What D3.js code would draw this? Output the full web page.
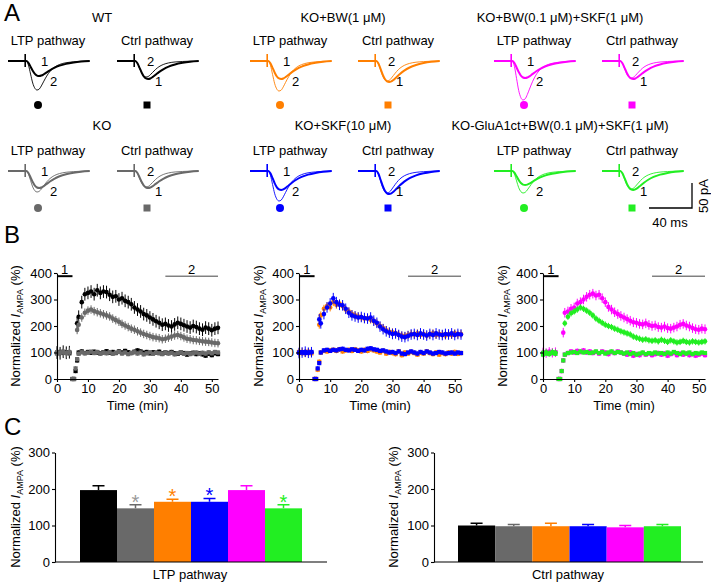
<!DOCTYPE html>
<html>
<head>
<meta charset="utf-8">
<script src="https://cdn.jsdelivr.net/npm/d3@7"></script>
<style>
    body { margin: 0; background: #fff; }
    svg { font-family: "Liberation Sans", Arial, sans-serif; }
    .axis path, .axis line { stroke: #000; stroke-width: 1.1; }
    .axis text { font-size: 13px; fill: #000; font-family: "Liberation Sans", Arial, sans-serif; }
</style>
</head>
<body>
<svg id="fig" width="711" height="583"></svg>
<script>
// ---- conditions ----
const conditions = ['WT', 'KO', 'KO+BW(1 \u03BCM)', 'KO+SKF(10 \u03BCM)',
    'KO+BW(0.1 \u03BCM)+SKF(1 \u03BCM)', 'KO-GluA1ct+BW(0.1 \u03BCM)+SKF(1 \u03BCM)'];
const colors = ['#000000', '#696969', '#ff7f00', '#0000ff', '#ff00ff', '#22ee22'];

// ---- A: EPSC amplitudes (pA), trace 1 = baseline, trace 2 = after LTP ----
const ltpAmp1 = [30, 34, 36, 38, 34, 28];
const ltpAmp2 = [58, 42, 60, 60, 78, 44];
const ctrlAmp1 = [36, 34, 42, 46, 36, 38];
const ctrlAmp2 = [32, 32, 40, 44, 34, 36];
// normalized waveform shapes (time in ms)
const traceMs = [0, 17, 19, 21, 23, 25, 27, 29, 31, 33, 36, 39, 43, 48, 54, 61, 68, 76];
const shape1 = [0, 0, -0.12, -0.38, -0.65, -0.86, -0.97, -1, -0.97, -0.9, -0.76, -0.62, -0.46, -0.31, -0.19, -0.1, -0.04, 0];
const shape2 = [0, 0, -0.14, -0.45, -0.76, -0.94, -1, -0.97, -0.86, -0.72, -0.52, -0.36, -0.22, -0.12, -0.06, -0.03, -0.01, 0];

// ---- B: time course (normalized I_AMPA, %) ----
const timeMin = [0, 1, 2, 3, 4, 5, 5.5, 6, 6.5, 7, 8, 9, 10, 11, 12, 13, 14, 15, 16, 17, 18, 19, 20,
    21, 22, 23, 24, 25, 26, 27, 28, 29, 30, 31, 32, 33, 34, 35, 36, 37, 38, 39, 40,
    41, 42, 43, 44, 45, 46, 47, 48, 49, 50, 51, 52];
const wtLtp = [100, 97, 103, 99, 101, null, null, null, 210,
    235, 290, 320, 325, 330, 320, 335, 325, 330,
    328, 318, 310, 312, 300, 305, 295, 290, 282, 270,
    262, 255, 245, 240, 232, 225, 218, 212, 205, 208,
    202, 198, 206, 212, 208, 203, 198, 194, 200, 196,
    190, 186, 194, 190, 184, 190, 193];
const wtCtrl = [98, 102, 99, 101, 97, 0, 0, 30, 70,
    100, 104, 98, 102, 99, 103, 100, 97, 101,
    105, 99, 102, 98, 104, 100, 106, 101, 98, 103,
    108, 104, 99, 102, 97, 101, 99, 103, 96, 100,
    98, 102, 97, 95, 100, 98, 92, 96, 99, 94,
    97, 93, 88, 95, 90, 97, 94];
const koLtp = [102, 98, 100, 97, 103, null, null, null, 185,
    205, 232, 250, 258, 262, 256, 252, 248, 244,
    240, 236, 228, 222, 216, 208, 202, 196, 190, 186,
    180, 175, 170, 166, 162, 158, 156, 154, 150, 152,
    156, 160, 164, 166, 162, 157, 152, 150, 147, 146,
    144, 142, 141, 140, 138, 136, 135];
const koCtrl = [96, 100, 103, 98, 100, 0, 0, 40, 75,
    95, 101, 97, 99, 103, 98, 102, 96, 100,
    97, 101, 95, 99, 102, 96, 100, 94, 98, 101,
    96, 100, 93, 97, 101, 95, 99, 97, 94, 100,
    96, 99, 93, 97, 101, 95, 98, 94, 97, 100,
    95, 99, 96, 101, 97, 102, 100];
const bw1Ltp = [100, 102, 97, 101, 99, null, null, null, 205,
    240, 265, 275, 270, 290, 280, 285, 275, 262,
    255, 245, 240, 236, 232, 228, 230, 224, 218, 210,
    200, 192, 184, 178, 176, 172, 168, 164, 162, 166,
    170, 168, 172, 166, 170, 164, 168, 172, 166, 170,
    168, 164, 170, 166, 172, 168, 170];
const bw1Ctrl = [102, 98, 100, 103, 97, 0, 0, 35, 65,
    100, 106, 104, 108, 110, 106, 112, 104, 108,
    110, 106, 112, 108, 104, 110, 106, 112, 108, 104,
    100, 106, 96, 102, 98, 94, 104, 90, 100, 96,
    102, 98, 92, 100, 96, 104, 98, 94, 100, 92,
    98, 94, 100, 96, 102, 95, 98];
const skf10Ltp = [98, 100, 103, 99, 101, null, null, null, 225,
    210, 245, 270, 285, 305, 290, 280, 278, 265,
    250, 240, 236, 232, 234, 230, 228, 232, 220, 212,
    198, 188, 180, 175, 170, 172, 166, 160, 158, 162,
    168, 170, 166, 172, 168, 164, 170, 166, 172, 168,
    166, 170, 168, 172, 166, 170, 168];
const skf10Ctrl = [100, 101, 98, 100, 102, 0, 0, 40, 60,
    100, 108, 110, 106, 110, 108, 112, 114, 110,
    108, 112, 110, 106, 110, 108, 114, 116, 112, 110,
    106, 108, 104, 100, 102, 98, 104, 96, 94, 100,
    104, 100, 96, 102, 98, 104, 100, 96, 98, 102,
    100, 96, 98, 100, 96, 100, 98];
const bwSkfLtp = [100, 98, 102, 99, 101, null, null, null, 175,
    250, 255, 265, 270, 285, 290, 300, 310, 318,
    322, 315, 318, 305, 290, 272, 262, 252, 245, 238,
    232, 226, 220, 214, 212, 208, 206, 210, 204, 200,
    202, 196, 194, 198, 192, 190, 194, 198, 205, 208,
    202, 198, 192, 188, 186, 190, 188];
const bwSkfCtrl = [96, 100, 103, 98, 101, 0, 0, 30, 70,
    92, 98, 104, 100, 106, 102, 108, 100, 104,
    98, 102, 96, 104, 100, 94, 102, 98, 104, 100,
    96, 92, 100, 88, 94, 90, 98, 92, 96, 90,
    94, 98, 92, 96, 88, 94, 98, 90, 96, 92,
    96, 90, 94, 88, 92, 96, 90];
const gluLtp = [99, 101, 97, 102, 100, null, null, null, null,
    210, 235, 248, 255, 262, 270, 265, 258, 250,
    240, 228, 220, 212, 205, 200, 196, 190, 186, 180,
    176, 172, 168, 160, 156, 152, 148, 150, 146, 144,
    146, 142, 148, 144, 140, 146, 142, 138, 140, 144,
    140, 138, 142, 140, 138, 140, 142];
const gluCtrl = [92, 96, 94, 98, 95, 0, 0, 30, 70,
    92, 98, 100, 102, 98, 104, 100, 102, 98,
    100, 104, 98, 102, 96, 100, 104, 98, 102, 100,
    96, 100, 94, 98, 92, 96, 100, 94, 98, 96,
    100, 96, 98, 94, 100, 96, 102, 98, 94, 100,
    96, 100, 94, 98, 96, 100, 98];
// SEM of each series, same order as conditions
const ltpTimeSem = [24, 16, 15, 20, 18, 12];
const ctrlTimeSem = [8, 8, 9, 8, 9, 7];
const timeTicks = [0, 10, 20, 30, 40, 50];
const timeYTicks = [0, 100, 200, 300, 400];

// ---- C: summary bars (mean +/- SEM, % of baseline) ----
const ltpMean = [197, 147, 165, 165, 197, 147];
const ltpSem = [12, 10, 7, 9, 12, 10];
const ltpSig = [false, true, true, true, false, true];
const ctrlMean = [100, 98, 98, 98, 95, 98];
const ctrlSem = [6, 5, 8, 5, 5, 5];
const barYTicks = [0, 100, 200, 300];

const svg = d3.select('#fig');
const starColors = ['#000', '#999999', '#ff7f00', '#0000ff', '#ff00ff', '#22ee22'];

function panelLetter(txt, x, y) {
    svg.append('text').attr('x', x).attr('y', y)
        .attr('font-size', 24).text(txt);
}

function yLabel(x, y) {
    const t = svg.append('text')
        .attr('transform', `translate(${x},${y}) rotate(-90)`)
        .attr('text-anchor', 'middle')
        .attr('font-size', 13)
        .attr('dy', '0.35em');
    t.append('tspan').text('Normalized ');
    t.append('tspan').attr('font-style', 'italic').text('I');
    t.append('tspan').attr('font-size', 9).attr('dy', 3).text('AMPA');
    t.append('tspan').attr('dy', -3).text(' (%)');
}

// ================= A =================
panelLetter('A', 4, 21);
const colLtpX = [8, 250, 494];
const colCtrlX = [117, 358, 602];
const colCenter = [102, 343, 560];
const rowBase = [61, 171];
const rowTitleY = [17, 125];
const rowLabelY = [40, 150];
const rowMarkY = [105, 208];
const msPx = 43 / 40;   // 40 ms scale bar = 43 px
const pAPx = 25 / 50;   // 50 pA scale bar = 25 px

function drawTraces(x0, base, amp1, amp2, color, isLtp) {
    const x = d3.scaleLinear().domain([0, 76]).range([x0, x0 + 76 * msPx]);
    const y = d3.scaleLinear().domain([0, -100]).range([base, base + 100 * pAPx]);
    const line = d3.line()
        .x((d, i) => x(traceMs[i]))
        .y(d => y(d))
        .curve(d3.curveMonotoneX);
    const g = svg.append('g');
    g.append('path').datum(shape2.map(v => v * amp2))
        .attr('d', line).attr('fill', 'none')
        .attr('stroke', color).attr('stroke-width', 0.9);
    g.append('path').datum(shape1.map(v => v * amp1))
        .attr('d', line).attr('fill', 'none')
        .attr('stroke', color).attr('stroke-width', 2);
    // stimulus artifact
    g.append('line')
        .attr('x1', x(16)).attr('x2', x(16))
        .attr('y1', base - 7).attr('y2', base + 6)
        .attr('stroke', color).attr('stroke-width', 1.6);
    const lab = isLtp ? ['1', '2'] : ['2', '1'];
    g.append('text').attr('x', x0 + (isLtp ? 33 : 30)).attr('y', base + 5)
        .attr('font-size', 13).text(lab[0]);
    g.append('text').attr('x', x0 + (isLtp ? 42 : 38)).attr('y', base + 25)
        .attr('font-size', 13).text(lab[1]);
}

conditions.forEach((name, i) => {
    const col = Math.floor(i / 2);
    const row = i % 2;
    const c = colors[i];
    svg.append('text').attr('x', colCenter[col]).attr('y', rowTitleY[row] + 5)
        .attr('text-anchor', 'middle').attr('font-size', 13).text(name);
    svg.append('text').attr('x', colLtpX[col] + 40).attr('y', rowLabelY[row] + 5)
        .attr('text-anchor', 'middle').attr('font-size', 13).text('LTP pathway');
    svg.append('text').attr('x', colCtrlX[col] + 40).attr('y', rowLabelY[row] + 5)
        .attr('text-anchor', 'middle').attr('font-size', 13).text('Ctrl pathway');
    drawTraces(colLtpX[col], rowBase[row], ltpAmp1[i], ltpAmp2[i], c, true);
    drawTraces(colCtrlX[col], rowBase[row], ctrlAmp1[i], ctrlAmp2[i], c, false);
    svg.append('circle').attr('cx', colLtpX[col] + 30).attr('cy', rowMarkY[row])
        .attr('r', 4).attr('fill', c);
    svg.append('rect').attr('x', colCtrlX[col] + 26.5).attr('y', rowMarkY[row] - 3.5)
        .attr('width', 7).attr('height', 7).attr('fill', c);
});

// scale bar
svg.append('path')
    .attr('d', `M649,208H692V183`)
    .attr('fill', 'none').attr('stroke', '#000').attr('stroke-width', 1.3);
svg.append('text').attr('x', 670).attr('y', 227).attr('text-anchor', 'middle')
    .attr('font-size', 13).text('40 ms');
svg.append('text').attr('transform', 'translate(708,196) rotate(-90)')
    .attr('text-anchor', 'middle').attr('font-size', 13).text('50 pA');

// ================= B =================
panelLetter('B', 4, 243);
const tcRanges = [[57, 218], [299, 461], [543, 705]];
const tcLabelX = [15, 258, 502];
const tcSeries = [
    [{ v: wtLtp, k: 0, ltp: true }, { v: wtCtrl, k: 0, ltp: false },
     { v: koLtp, k: 1, ltp: true }, { v: koCtrl, k: 1, ltp: false }],
    [{ v: bw1Ltp, k: 2, ltp: true }, { v: bw1Ctrl, k: 2, ltp: false },
     { v: skf10Ltp, k: 3, ltp: true }, { v: skf10Ctrl, k: 3, ltp: false }],
    [{ v: bwSkfLtp, k: 4, ltp: true }, { v: bwSkfCtrl, k: 4, ltp: false },
     { v: gluLtp, k: 5, ltp: true }, { v: gluCtrl, k: 5, ltp: false }]
];

function drawTimeCourse(range, series, labelX) {
    const x = d3.scaleLinear().domain([0, 52]).range(range);
    const y = d3.scaleLinear().domain([0, 400]).range([379, 273]);
    const g = svg.append('g');

    series.forEach(s => {
        const c = colors[s.k];
        const sem = s.ltp ? ltpTimeSem[s.k] : ctrlTimeSem[s.k];
        const pts = timeMin.map((t, i) => ({ t: t, v: s.v[i] })).filter(d => d.v !== null);
        g.append('g').selectAll('line').data(pts).join('line')
            .attr('x1', d => x(d.t)).attr('x2', d => x(d.t))
            .attr('y1', d => y(Math.max(0, d.v - sem)))
            .attr('y2', d => y(d.v + sem))
            .attr('stroke', c).attr('stroke-width', 1);
        if (s.ltp) {
            g.append('g').selectAll('circle').data(pts).join('circle')
                .attr('cx', d => x(d.t)).attr('cy', d => y(d.v))
                .attr('r', 2.3).attr('fill', c);
        } else {
            g.append('g').selectAll('rect').data(pts).join('rect')
                .attr('x', d => x(d.t) - 2.1).attr('y', d => y(d.v) - 2.1)
                .attr('width', 4.2).attr('height', 4.2).attr('fill', c);
        }
    });

    g.append('g').attr('class', 'axis')
        .attr('transform', 'translate(0,379)')
        .call(d3.axisBottom(x).tickValues(timeTicks).tickSize(3).tickSizeOuter(0).tickPadding(2));
    g.append('g').attr('class', 'axis')
        .attr('transform', `translate(${range[0]},0)`)
        .call(d3.axisLeft(y).tickValues(timeYTicks).tickSize(3).tickSizeOuter(0).tickPadding(2));

    // periods 1 and 2
    g.append('line').attr('x1', x(0)).attr('x2', x(5))
        .attr('y1', y(388)).attr('y2', y(388))
        .attr('stroke', '#000').attr('stroke-width', 2);
    g.append('text').attr('x', x(2.5)).attr('y', y(398))
        .attr('text-anchor', 'middle').attr('font-size', 13).text('1');
    g.append('line').attr('x1', x(35)).attr('x2', x(52))
        .attr('y1', y(388)).attr('y2', y(388))
        .attr('stroke', '#444').attr('stroke-width', 1);
    g.append('text').attr('x', x(43.5)).attr('y', y(398))
        .attr('text-anchor', 'middle').attr('font-size', 13).text('2');

    g.append('text').attr('x', (range[0] + range[1]) / 2).attr('y', 410)
        .attr('text-anchor', 'middle').attr('font-size', 13).text('Time (min)');
    yLabel(labelX, 326);
}

tcSeries.forEach((s, i) => drawTimeCourse(tcRanges[i], s, tcLabelX[i]));

// ================= C =================
panelLetter('C', 4, 435);

function drawBars(axisX, axisEnd, barRange, means, sems, sig, label, labelX, yLabX) {
    const y = d3.scaleLinear().domain([0, 300]).range([562, 452.5]);
    const x = d3.scaleBand().domain(conditions).range(barRange).padding(0);
    const g = svg.append('g');
    const data = conditions.map((c, i) => ({ c: c, i: i, m: means[i], s: sems[i] }));

    // error bars (upward only)
    g.selectAll('.err').data(data).join('path')
        .attr('class', 'err')
        .attr('d', d => {
            const cx = x(d.c) + x.bandwidth() / 2;
            return `M${cx},${y(d.m)}V${y(d.m + d.s)}M${cx - 6},${y(d.m + d.s)}H${cx + 6}`;
        })
        .attr('fill', 'none')
        .attr('stroke', d => colors[d.i]).attr('stroke-width', 1.5);
    g.selectAll('.bar').data(data).join('rect')
        .attr('class', 'bar')
        .attr('x', d => x(d.c)).attr('width', x.bandwidth())
        .attr('y', d => y(d.m)).attr('height', d => y(0) - y(d.m))
        .attr('fill', d => colors[d.i]);
    if (sig) {
        g.selectAll('.star').data(data.filter(d => sig[d.i])).join('text')
            .attr('class', 'star')
            .attr('x', d => x(d.c) + x.bandwidth() / 2)
            .attr('y', d => y(d.m + d.s) + 4)
            .attr('text-anchor', 'middle').attr('font-size', 20)
            .attr('fill', d => starColors[d.i]).text('*');
    }

    g.append('line').attr('x1', axisX).attr('x2', axisEnd)
        .attr('y1', y(0)).attr('y2', y(0)).attr('stroke', '#000').attr('stroke-width', 1.1);
    g.append('g').attr('class', 'axis')
        .attr('transform', `translate(${axisX},0)`)
        .call(d3.axisLeft(y).tickValues(barYTicks).tickSize(3).tickSizeOuter(0).tickPadding(2));
    g.append('text').attr('x', labelX).attr('y', 579)
        .attr('text-anchor', 'middle').attr('font-size', 13).text(label);
    yLabel(yLabX, 507);
}

drawBars(55, 327, [80, 302], ltpMean, ltpSem, ltpSig, 'LTP pathway', 190, 15);
drawBars(434, 703, [458, 681], ctrlMean, ctrlSem, null, 'Ctrl pathway', 568, 393);
</script>
</body>
</html>
